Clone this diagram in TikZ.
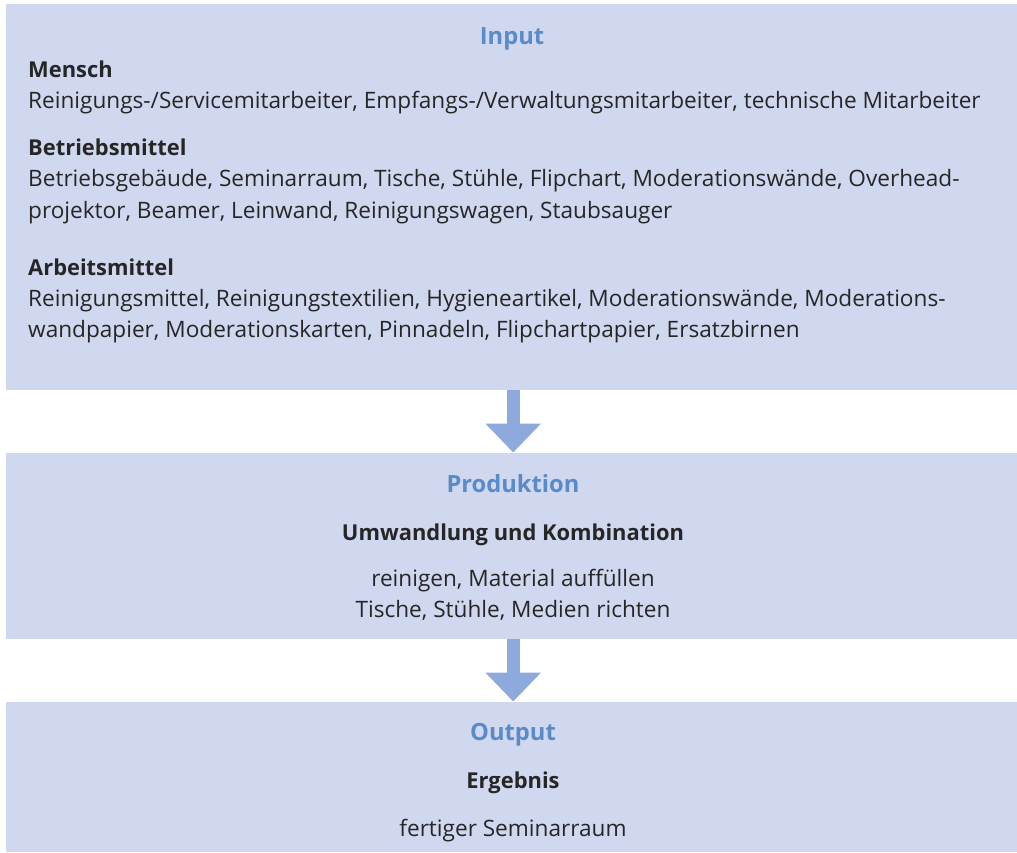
\documentclass[tikz,border=0pt]{standalone}
\usepackage{fontspec}
\setmainfont{Open Sans}
\usetikzlibrary{arrows.meta,calc}
\definecolor{boxfill}{HTML}{D0D8EF}
\definecolor{arrowc}{HTML}{8EA9DB}
\definecolor{titlec}{HTML}{5A8AC8}
\definecolor{txt}{HTML}{262626}
\tikzset{
  box/.style={draw=none, fill=boxfill, rectangle, inner sep=0pt, anchor=north west},
  flowarrow/.style={draw=arrowc, line width=13.3pt, -{Triangle[width=54pt,length=29pt]}, shorten >=0.5pt},
  lbl/.style={inner sep=0pt, text=txt, font=\fontsize{22.6}{31}\selectfont},
  head/.style={lbl, font=\fontsize{21.9}{31}\selectfont\bfseries},
  ttl/.style={inner sep=0pt, text=titlec, font=\fontsize{23.7}{31}\selectfont\bfseries, anchor=base},
}
\begin{document}
\begin{tikzpicture}[x=1pt,y=-1pt]
\useasboundingbox (0,0) rectangle (1017,852);
\node[box, minimum width=1011pt, minimum height=386pt] (in) at (6,4) {};
\node[box, minimum width=1011pt, minimum height=186pt] (prod) at (6,453) {};
\node[box, minimum width=1011pt, minimum height=150pt] (out) at (6,702) {};

\draw[flowarrow] ($(in.south)+(1.5,0)$) -- ($(prod.north)+(1.5,0)$);
\draw[flowarrow] ($(prod.south)+(1.5,0)$) -- ($(out.north)+(1.5,0)$);

% Input
\node[ttl] (tin) at (512,44) {Input};
\node[head, anchor=base west] (m1) at (28,77) {Mensch};
\node[lbl, anchor=base west] (m2) at (28,108) {Reinigungs-/Servicemitarbeiter, Empfangs-/Verwaltungsmitarbeiter, technische Mitarbeiter};
\node[head, anchor=base west] (b1) at (28,155) {Betriebsmittel};
\node[lbl, anchor=base west] (b2) at (28,186) {Betriebsgebäude, Seminarraum, Tische, Stühle, Flipchart, Moderationswände, Overhead-};
\node[lbl, anchor=base west] (b3) at (28,218) {projektor, Beamer, Leinwand, Reinigungswagen, Staubsauger};
\node[head, anchor=base west] (a1) at (28,275) {Arbeitsmittel};
\node[lbl, anchor=base west] (a2) at (28,306) {Reinigungsmittel, Reinigungstextilien, Hygieneartikel, Moderationswände, Moderations-};
\node[lbl, anchor=base west] (a3) at (28,337) {wandpapier, Moderationskarten, Pinnadeln, Flipchartpapier, Ersatzbirnen};

% Produktion
\node[ttl] (tprod) at (513,492) {Produktion};
\node[head, anchor=base] (p1) at (513,540) {Umwandlung und Kombination};
\node[lbl, anchor=base] (p2) at (513,586) {reinigen, Material auffüllen};
\node[lbl, anchor=base] (p3) at (513,617) {Tische, Stühle, Medien richten};

% Output
\node[ttl] (tout) at (513,740) {Output};
\node[head, anchor=base] (o1) at (513,788) {Ergebnis};
\node[lbl, anchor=base] (o2) at (513,836) {fertiger Seminarraum};
\end{tikzpicture}
\end{document}
